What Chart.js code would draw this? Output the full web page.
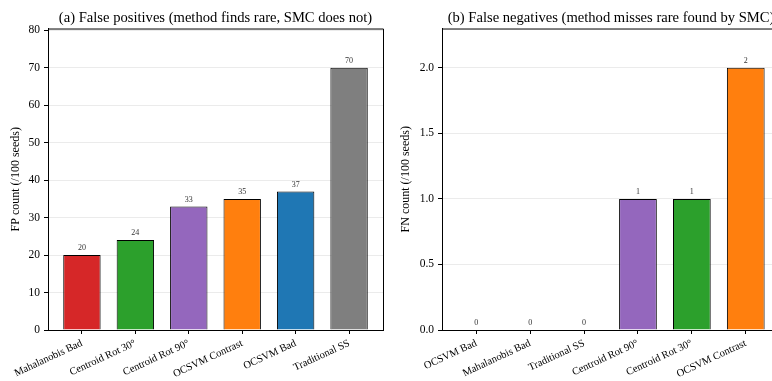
<!DOCTYPE html>
<html>
<head>
<meta charset="utf-8">
<script src="https://cdn.jsdelivr.net/npm/chart.js@4"></script>
<style>
  html, body { margin: 0; padding: 0; background: #fff; overflow: hidden; }
  body { width: 772px; height: 381px; position: relative; }
  .box { position: absolute; top: 0; height: 381px; }
  #boxA { left: 0; width: 390px; }
  #boxB { left: 390px; width: 390px; }
</style>
</head>
<body>
<div class="box" id="boxA"><canvas id="fpChart"></canvas></div>
<div class="box" id="boxB"><canvas id="fnChart"></canvas></div>
<script>
// panel (a) false positives
const fpLabels = ["Mahalanobis Bad", "Centroid Rot 30°", "Centroid Rot 90°", "OCSVM Contrast", "OCSVM Bad", "Traditional SS"];
const fpValues = [20, 24, 33, 35, 37, 70];
const fpColors = ["#d62728", "#2ca02c", "#9467bd", "#ff7f0e", "#1f77b4", "#7f7f7f"];

// panel (b) false negatives
const fnLabels = ["OCSVM Bad", "Mahalanobis Bad", "Traditional SS", "Centroid Rot 90°", "Centroid Rot 30°", "OCSVM Contrast"];
const fnValues = [0, 0, 0, 1, 1, 2];
const fnColors = ["#1f77b4", "#d62728", "#7f7f7f", "#9467bd", "#2ca02c", "#ff7f0e"];

const SERIF = "'Liberation Serif', 'DejaVu Serif', serif";

// top + right spines and value labels
const framePlugin = {
  id: "frame",
  afterDatasetsDraw(chart) {
    const { ctx, chartArea: a } = chart;
    ctx.save();
    ctx.strokeStyle = "#000";
    ctx.lineWidth = 1;
    ctx.beginPath();
    ctx.moveTo(a.left, a.top + 0.5);
    ctx.lineTo(a.right + 0.5, a.top + 0.5);
    ctx.lineTo(a.right + 0.5, a.bottom);
    ctx.stroke();
    // numbers on top of bars
    ctx.fillStyle = "#333";
    ctx.font = "8px " + SERIF;
    ctx.textAlign = "center";
    ctx.textBaseline = "bottom";
    const meta = chart.getDatasetMeta(0);
    meta.data.forEach((bar, i) => {
      const v = chart.data.datasets[0].data[i].y;
      ctx.fillText(String(v), bar.x, bar.y - 3);
    });
    ctx.restore();
  }
};

function makeChart(id, title, yTitle, labels, values, colors, yMax, yStep, yFmt, yAxisW, padRight) {
  const ctx = document.getElementById(id).getContext("2d");
  return new Chart(ctx, {
    type: "bar",
    data: {
      datasets: [{
        data: values.map((v, i) => ({ x: i, y: v })),
        backgroundColor: colors,
        borderColor: "#000",
        borderWidth: 1,
        barPercentage: 0.7,
        categoryPercentage: 1.0,
      }]
    },
    options: {
      responsive: true,
      maintainAspectRatio: false,
      animation: false,
      layout: { padding: { left: 0, right: padRight, top: 0, bottom: 0 } },
      plugins: {
        legend: { display: false },
        tooltip: { enabled: false },
        title: {
          display: true,
          text: title,
          fullSize: false,
          color: "#000",
          font: { family: SERIF, size: 14.6, weight: "normal" },
          padding: { top: 9, bottom: 2 },
        },
      },
      scales: {
        x: {
          type: "linear",
          offset: false,
          min: -0.635,
          max: 5.635,
          afterBuildTicks: (s) => { s.ticks = labels.map((l, i) => ({ value: i })); },
          afterFit: (s) => { s.height = 51; },
          ticks: {
            callback: (v) => labels[v],
            color: "#000",
            font: { family: SERIF, size: 10.5 },
            minRotation: 25,
            maxRotation: 25,
            padding: 3,
          },
          grid: { offset: false, drawOnChartArea: false, drawTicks: true, tickLength: 4, tickColor: "#000" },
          border: { display: true, color: "#000", width: 1 },
        },
        y: {
          min: 0,
          max: yMax,
          afterFit: (s) => { s.width = yAxisW; },
          ticks: {
            stepSize: yStep,
            includeBounds: false,
            callback: yFmt,
            color: "#000",
            font: { family: SERIF, size: 11.5 },
            padding: 4,
          },
          grid: { color: "#ebebeb", lineWidth: 1, tickLength: 4, tickColor: "#000" },
          border: { display: true, color: "#000", width: 1 },
          title: {
            display: true,
            text: yTitle,
            color: "#000",
            font: { family: SERIF, size: 12 },
            padding: { top: 9, bottom: 0 },
          },
        },
      },
    },
    plugins: [framePlugin],
  });
}

makeChart("fpChart", "(a) False positives (method finds rare, SMC does not)", "FP count (/100 seeds)",
  fpLabels, fpValues, fpColors, 80.5, 10, (v) => String(v), 48, 7);
makeChart("fnChart", "(b) False negatives (method misses rare found by SMC)", "FN count (/100 seeds)",
  fnLabels, fnValues, fnColors, 2.3, 0.5, (v) => v.toFixed(1), 52, 0);
</script>
</body>
</html>
